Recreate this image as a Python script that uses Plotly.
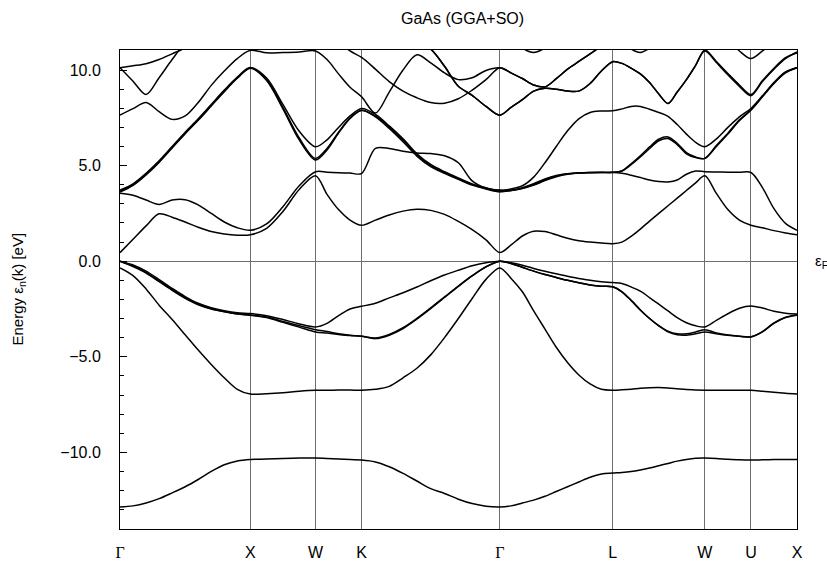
import plotly.graph_objects as go

# ---- k-path structure -------------------------------------------------------
POINT_LABELS = ["Γ", "X", "W", "K", "Γ", "L", "W", "U", "X"]
SEG_LEN = [1.0, 0.5, 0.35355, 1.06066, 0.86603, 0.70711, 0.35355, 0.35355]
LONG = [0.1, 0.2, 0.3, 0.4, 0.5, 0.6, 0.7, 0.8, 0.9, 1.0]
SHORT = [0.25, 0.5, 0.75, 1.0]
SEG_FRAC = [[0.0] + LONG, SHORT, SHORT, LONG, LONG, LONG, SHORT, SHORT]

# ---- band energies (eV) read at the k samples: GX | XW | WK | KG | GL | LW | WU | UX
V1 = [-12.86, -12.8, -12.65, -12.42, -12.12, -11.8, -11.42, -11.0, -10.65, -10.45, -10.37,
      -10.35, -10.32, -10.3, -10.3,
      -10.32, -10.35, -10.38, -10.4,
      -10.5, -10.75, -11.1, -11.5, -11.9, -12.15, -12.45, -12.68, -12.82, -12.86,
      -12.8, -12.65, -12.5, -12.3, -12.05, -11.8, -11.55, -11.3, -11.13, -11.08,
      -11.05, -11.0, -10.92, -10.82, -10.7, -10.58, -10.46, -10.37, -10.31, -10.3,
      -10.32, -10.36, -10.39, -10.4,
      -10.39, -10.38, -10.37, -10.37]
V2 = [-0.35, -0.75, -1.45, -2.3, -3.05, -3.85, -4.65, -5.4, -6.1, -6.7, -6.95,
      -6.93, -6.88, -6.8, -6.75,
      -6.75, -6.74, -6.74, -6.75,
      -6.7, -6.55, -6.1, -5.6, -4.9, -4.0, -3.0, -1.95, -0.95, -0.35,
      -0.9, -1.6, -2.6, -3.55, -4.5, -5.3, -5.95, -6.42, -6.7, -6.75,
      -6.73, -6.7, -6.65, -6.62, -6.61, -6.63, -6.67, -6.71, -6.74, -6.75,
      -6.75, -6.75, -6.75, -6.75,
      -6.8, -6.86, -6.91, -6.95]
V3 = [0.0, -0.28, -0.62, -1.07, -1.52, -1.94, -2.28, -2.5, -2.65, -2.76, -2.83,
      -2.95, -3.2, -3.45, -3.70,
      -3.76, -3.83, -3.89, -3.93,
      -4.05, -3.87, -3.52, -3.03, -2.48, -1.9, -1.32, -0.77, -0.3, 0.0,
      -0.12, -0.32, -0.52, -0.7, -0.85, -1.0, -1.13, -1.24, -1.31, -1.34,
      -1.6, -2.05, -2.55, -3.0, -3.38, -3.7, -3.85, -3.87, -3.8, -3.70,
      -3.8, -3.88, -3.93, -3.96,
      -3.7, -3.25, -2.95, -2.83]
V3B = [0.0, -0.25, -0.58, -1.03, -1.48, -1.9, -2.25, -2.48, -2.63, -2.75, -2.81,
       -2.92, -3.15, -3.38, -3.58,
       -3.68, -3.79, -3.87, -3.92,
       -4.02, -3.83, -3.48, -2.99, -2.44, -1.87, -1.3, -0.76, -0.29, 0.0,
       -0.12, -0.32, -0.52, -0.7, -0.85, -1.0, -1.13, -1.24, -1.31, -1.34,
       -1.6, -2.05, -2.55, -3.0, -3.37, -3.66, -3.8, -3.8, -3.7, -3.58,
       -3.75, -3.86, -3.92, -3.95,
       -3.68, -3.23, -2.93, -2.81]
V4 = [0.0, -0.2, -0.52, -0.96, -1.42, -1.85, -2.2, -2.43, -2.59, -2.7, -2.74,
      -2.85, -3.05, -3.28, -3.44,
      -3.25, -2.85, -2.5, -2.36,
      -2.2, -1.92, -1.65, -1.35, -1.02, -0.72, -0.47, -0.24, -0.08, 0.0,
      -0.08, -0.21, -0.38, -0.53, -0.66, -0.79, -0.9, -1.0, -1.07, -1.12,
      -1.17, -1.35, -1.57, -1.9, -2.25, -2.6, -2.95, -3.22, -3.38, -3.44,
      -3.1, -2.75, -2.46, -2.34,
      -2.45, -2.62, -2.72, -2.76]
C1 = [0.45, 1.15, 1.85, 2.48, 2.3, 2.05, 1.78, 1.55, 1.42, 1.36, 1.38,
      1.72, 2.6, 3.75, 4.47,
      3.5, 2.7, 2.15, 1.88,
      2.15, 2.42, 2.62, 2.72, 2.66, 2.45, 2.08, 1.65, 1.12, 0.45,
      0.85, 1.32, 1.57, 1.55, 1.38, 1.2, 1.07, 1.0, 0.95, 0.92,
      1.0, 1.3, 1.68, 2.1, 2.5, 2.9, 3.3, 3.7, 4.1, 4.47,
      3.55, 2.7, 2.15, 1.88,
      1.75, 1.6, 1.48, 1.38]
C2 = [3.55, 3.45, 3.2, 2.97, 3.2, 3.22, 2.95, 2.5, 2.05, 1.75, 1.62,
      1.95, 2.85, 3.95, 4.68,
      4.66, 4.63, 4.61, 4.59,
      5.9, 5.9, 5.75, 5.66, 5.63, 5.52, 5.15, 4.2, 3.82, 3.72,
      3.72, 3.85, 4.05, 4.3, 4.48, 4.58, 4.62, 4.64, 4.64, 4.64,
      4.6, 4.5, 4.38, 4.25, 4.17, 4.15, 4.25, 4.55, 4.72, 4.68,
      4.67, 4.66, 4.65, 4.64,
      3.85, 2.75, 1.98, 1.62]
C3 = [3.65, 4.0, 4.55, 5.2, 5.95, 6.7, 7.4, 8.15, 8.9, 9.6, 10.12,
      9.5, 8.05, 6.45, 5.38,
      5.9, 6.75, 7.5, 7.9,
      7.55, 6.95, 6.25, 5.5, 4.95, 4.6, 4.28, 3.98, 3.78, 3.63,
      3.7, 3.82, 4.0, 4.25, 4.45, 4.57, 4.62, 4.64, 4.65, 4.65,
      4.72, 5.05, 5.45, 5.9, 6.3, 6.42, 6.1, 5.62, 5.42, 5.38,
      6.0, 6.65, 7.35, 7.9,
      8.6, 9.3, 9.85, 10.12]
C3B = [3.62, 3.97, 4.52, 5.17, 5.92, 6.67, 7.37, 8.12, 8.87, 9.57, 10.1,
       9.45, 7.97, 6.35, 5.30,
       5.82, 6.7, 7.47, 7.88,
       7.6, 7.03, 6.33, 5.58, 5.0, 4.64, 4.31, 4.01, 3.8, 3.65,
       3.7, 3.8, 3.98, 4.22, 4.42, 4.55, 4.61, 4.63, 4.64, 4.65,
       4.72, 5.1, 5.52, 5.98, 6.38, 6.5, 6.17, 5.68, 5.45, 5.38,
       6.05, 6.7, 7.4, 7.93,
       8.63, 9.33, 9.88, 10.12]
C4 = [3.72, 4.05, 4.6, 5.25, 6.0, 6.75, 7.45, 8.2, 8.95, 9.63, 10.13,
      9.58, 8.2, 6.8, 5.99,
      6.35, 7.0, 7.6, 7.99,
      7.68, 7.08, 6.4, 5.62, 5.06, 4.68, 4.35, 4.04, 3.84, 3.7,
      3.78, 3.95, 4.4, 5.15, 6.0, 6.82, 7.45, 7.78, 7.86, 7.87,
      7.97, 8.1, 8.1, 7.95, 7.78, 7.58, 7.15, 6.65, 6.22, 5.99,
      6.4, 7.0, 7.55, 7.99,
      8.65, 9.35, 9.9, 10.12]
C5 = [7.64, 7.98, 8.3, 7.82, 7.42, 7.6, 8.3, 9.2, 9.95, 10.6, 11.03,
      10.9, 10.92, 10.95, 11.0,
      10.55, 9.8, 9.1, 8.6,
      7.75, 8.85, 10.0, 10.8, 10.38, 9.85, 9.5, 9.6, 9.98, 10.12,
      9.85, 9.56, 9.22, 9.12, 9.55, 10.05, 10.45, 10.85, 11.25, 11.6,
      11.8, 12.0, 12.0, 12.0, 12.0, 12.0, 12.0, 12.0, 12.0, 12.0,
      12.0, 12.0, 12.0, 12.0,
      12.0, 12.0, 12.0, 12.0]
C6 = [10.12, 9.42, 8.72, 9.6, 10.55, 11.4, 11.8, 12.0, 12.0, 12.0, 12.0,
      12.0, 12.0, 12.0, 12.0,
      11.9, 11.5, 11.0, 10.66,
      10.05, 9.4, 8.9, 8.55, 8.3, 8.27, 8.5, 8.95, 9.5, 10.12,
      9.85, 9.56, 9.22, 9.12, 9.55, 10.05, 10.45, 10.85, 11.25, 11.6,
      12.0, 12.0, 12.0, 12.0, 12.0, 12.0, 12.0, 12.0, 12.0, 12.0,
      12.0, 12.0, 12.0, 12.0,
      12.0, 12.0, 12.0, 12.0]
C7 = [12.0, 12.0, 12.0, 12.0, 12.0, 12.0, 12.0, 12.0, 12.0, 12.0, 12.0,
      12.0, 12.0, 12.0, 12.0,
      12.0, 12.0, 12.0, 12.0,
      12.4, 12.2, 11.9, 11.5, 11.1, 10.2, 9.15, 8.68, 8.1, 7.64,
      8.05, 8.45, 8.9, 9.05, 9.0, 8.9, 8.9, 9.3, 9.95, 10.44,
      10.35, 10.1, 9.8, 9.35, 8.75, 8.25, 8.85, 9.5, 10.25, 11.0,
      10.4, 9.75, 9.15, 8.66,
      9.4, 10.05, 10.6, 10.95]
C7B = [12.0, 12.0, 12.0, 12.0, 12.0, 12.0, 12.0, 12.0, 12.0, 12.0, 12.0,
       12.0, 12.0, 12.0, 12.0,
       12.0, 12.0, 12.0, 12.0,
       12.4, 12.2, 11.9, 11.5, 11.1, 10.2, 9.15, 8.68, 8.1, 7.64,
       8.05, 8.45, 8.9, 9.05, 9.0, 8.9, 8.9, 9.3, 9.95, 10.44,
       10.35, 10.1, 9.8, 9.35, 8.75, 8.25, 8.85, 9.5, 10.25, 11.05,
       10.45, 9.82, 9.22, 8.72,
       9.45, 10.1, 10.65, 10.9]
C8 = [10.12, 10.22, 10.33, 10.55, 10.85, 11.15, 11.5, 11.8, 12.0, 12.0, 12.0,
      12.0, 12.0, 12.0, 12.0,
      12.0, 12.0, 12.0, 12.0,
      12.0, 12.0, 12.0, 12.0, 12.0, 12.0, 12.0, 12.0, 12.0, 12.0,
      11.7, 11.15, 10.92, 11.15, 11.6, 12.0, 12.0, 12.0, 11.9, 11.7,
      11.5, 11.1, 10.92, 11.15, 11.6, 12.0, 12.0, 12.0, 12.0, 12.0,
      12.0, 11.6, 11.0, 10.6,
      11.0, 11.5, 11.9, 12.0]

BANDS = [V1, V2, V3, V3B, V4, C1, C2, C3, C3B, C4, C5, C6, C7, C7B, C8]

Y_TICKS = [-10, -5, 0, 5, 10]
Y_TICK_TEXT = ["\u221210.0", "\u22125.0", "0.0", "5.0", "10.0"]

# ---- build k coordinates ----------------------------------------------------
k_grid = []
point_pos = [0.0]
start = 0.0
for length, fracs in zip(SEG_LEN, SEG_FRAC):
    for f in fracs:
        k_grid.append(start + f * length)
    start += length
    point_pos.append(start)

FONT = "Liberation Sans, Arial, Helvetica, sans-serif"
tick_text = [
    '<span style="font-family:Liberation Serif, serif">Γ</span>' if lab == "Γ" else lab
    for lab in POINT_LABELS
]

fig = go.Figure()
for band in BANDS:
    assert len(band) == len(k_grid)
    fig.add_trace(go.Scatter(
        x=k_grid, y=band, mode="lines",
        line=dict(color="black", width=1.5, shape="spline", smoothing=0.9),
        hoverinfo="skip", showlegend=False,
    ))

fig.update_layout(
    width=827, height=563,
    margin=dict(l=120, r=30, t=50, b=34, autoexpand=False),
    paper_bgcolor="white", plot_bgcolor="white",
    font=dict(family=FONT, size=16, color="black"),
    title=dict(text="GaAs (GGA+SO)", x=0.506, xref="paper", xanchor="center",
               y=1 - 18 / 563, yref="container", yanchor="middle",
               font=dict(family=FONT, size=16, color="black")),
    showlegend=False,
)
fig.update_xaxes(
    automargin=False,
    range=[0, point_pos[-1]],
    tickmode="array", tickvals=point_pos, ticktext=tick_text,
    ticks="", ticklabelstandoff=9,
    showgrid=True, gridcolor="#6e6e6e", gridwidth=1,
    showline=True, linecolor="black", linewidth=1, mirror=True,
    zeroline=False,
    tickfont=dict(family=FONT, size=16, color="black"),
)
fig.update_yaxes(
    automargin=False,
    range=[-14.01, 11.05],
    tickmode="array", tickvals=Y_TICKS, ticktext=Y_TICK_TEXT,
    ticks="inside", ticklen=7, tickcolor="black", tickwidth=1,
    minor=dict(tick0=0, dtick=1, ticks="inside", ticklen=4, tickcolor="black", tickwidth=1),
    ticklabelstandoff=15,
    showgrid=False,
    zeroline=True, zerolinecolor="#6e6e6e", zerolinewidth=1,
    showline=True, linecolor="black", linewidth=1, mirror=True,
    tickfont=dict(family=FONT, size=16, color="black"),
)
fig.add_annotation(
    text="Energy ε<sub>n</sub>(k) [eV]", textangle=-90,
    xref="paper", x=0, xshift=-102, xanchor="center",
    yref="paper", y=0.5, yanchor="middle",
    showarrow=False, font=dict(family=FONT, size=15, color="black"),
)
fig.add_annotation(
    text="ε<sub>F</sub>",
    xref="paper", x=1, xshift=16, xanchor="left",
    yref="y", y=0, yanchor="middle",
    showarrow=False, font=dict(family=FONT, size=15, color="black"),
)

fig.write_html("out.html")
